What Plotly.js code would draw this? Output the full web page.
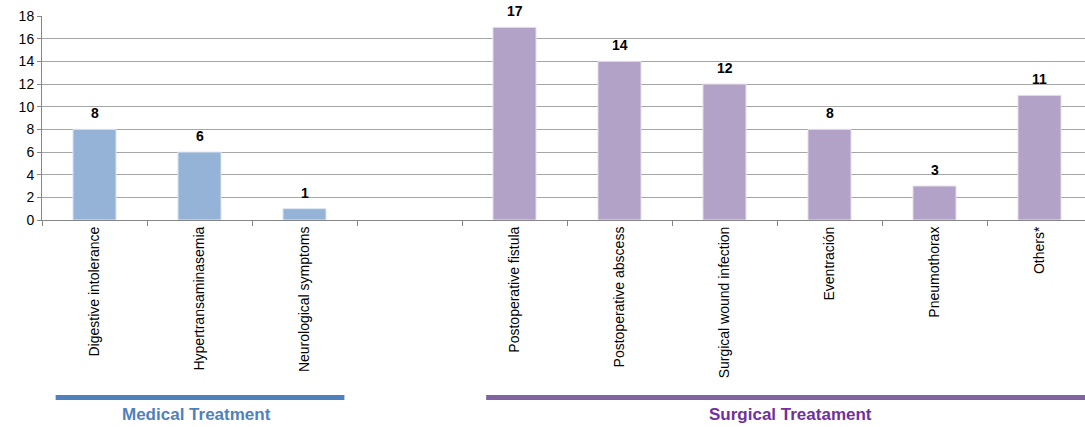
<!DOCTYPE html>
<html>
<head>
<meta charset="utf-8">
<script src="https://cdn.plot.ly/plotly-3.0.1.min.js"></script>
<style>
  html, body { margin: 0; padding: 0; background: #fff; overflow: hidden; }
  #chart { width: 1100px; height: 427px; }
</style>
</head>
<body>
<div id="chart"></div>
<script>
// Complications grouped by treatment type
const medicalCategories = ["Digestive intolerance", "Hypertransaminasemia", "Neurological symptoms"];
const medicalValues = [8, 6, 1];
const gapCategory = " ";
const surgicalCategories = ["Postoperative fistula", "Postoperative abscess", "Surgical wound infection", "Eventración", "Pneumothorax", "Others*"];
const surgicalValues = [17, 14, 12, 8, 3, 11];
const groupLabels = ["Medical Treatment", "Surgical Treatament"];
const yTicks = [0, 2, 4, 6, 8, 10, 12, 14, 16, 18];

const allCategories = medicalCategories.concat([gapCategory], surgicalCategories);

const BAR_W = 0.41;
const medicalTrace = {
  type: "bar",
  x: medicalCategories,
  y: medicalValues,
  width: BAR_W,
  marker: { color: "#95B3D7", line: { color: "#DCE6F2", width: 1 } },
  hoverinfo: "x+y"
};
const surgicalTrace = {
  type: "bar",
  x: surgicalCategories,
  y: surgicalValues,
  width: BAR_W,
  marker: { color: "#B3A2C7", line: { color: "#E6E0EC", width: 1 } },
  hoverinfo: "x+y"
};

// value labels above each bar
const valueLabels = [];
function addLabels(cats, vals) {
  cats.forEach((c, i) => {
    valueLabels.push({
      x: c, y: vals[i], xref: "x", yref: "y",
      text: String(vals[i]), showarrow: false,
      yanchor: "bottom", yshift: 6,
      font: { family: "Liberation Sans, Arial, sans-serif", size: 14, color: "#000", weight: "bold" }
    });
  });
}
addLabels(medicalCategories, medicalValues);
addLabels(surgicalCategories, surgicalValues);

const groupAnnotations = [
  { x: 0.97, y: -0.955, xref: "x", yref: "paper", yanchor: "middle", text: "<b>" + groupLabels[0] + "</b>", showarrow: false,
    font: { family: "Liberation Sans, Arial, sans-serif", size: 17, color: "#4F81BD" } },
  { x: 6.63, y: -0.955, xref: "x", yref: "paper", yanchor: "middle", text: "<b>" + groupLabels[1] + "</b>", showarrow: false,
    font: { family: "Liberation Sans, Arial, sans-serif", size: 17, color: "#7030A0" } }
];

const groupLines = [
  { type: "line", xref: "x", yref: "paper", x0: -0.37, x1: 2.38, y0: -0.87, y1: -0.87,
    line: { color: "#4F81BD", width: 5 } },
  { type: "line", xref: "x", yref: "paper", x0: 3.73, x1: 9.6, y0: -0.87, y1: -0.87,
    line: { color: "#8064A2", width: 5 } }
];

const layout = {
  width: 1100,
  height: 427,
  margin: { l: 42, r: 8, t: 16, b: 207 },
  paper_bgcolor: "#fff",
  plot_bgcolor: "#fff",
  barmode: "overlay",
  showlegend: false,
  font: { family: "Liberation Sans, Arial, sans-serif", color: "#000" },
  xaxis: {
    type: "category",
    categoryorder: "array",
    categoryarray: allCategories,
    range: [-0.5, allCategories.length - 0.5],
    tickson: "boundaries",
    ticks: "outside",
    ticklen: 5,
    tickcolor: "#868686",
    tickangle: -90,
    tickfont: { size: 14, color: "#000" },
    showline: true,
    linecolor: "#868686",
    linewidth: 1,
    showgrid: false,
    zeroline: false,
    automargin: false
  },
  yaxis: {
    range: [0, 18],
    tickvals: yTicks,
    ticktext: yTicks.map(String),
    ticks: "outside",
    ticklen: 4,
    tickcolor: "#868686",
    tickfont: { size: 14, color: "#000" },
    showline: true,
    linecolor: "#868686",
    linewidth: 1,
    showgrid: true,
    gridcolor: "#A6A6A6",
    gridwidth: 1,
    zeroline: false,
    automargin: false
  },
  annotations: valueLabels.concat(groupAnnotations),
  shapes: groupLines
};

Plotly.newPlot("chart", [medicalTrace, surgicalTrace], layout, { displayModeBar: false, staticPlot: true });
</script>
</body>
</html>
